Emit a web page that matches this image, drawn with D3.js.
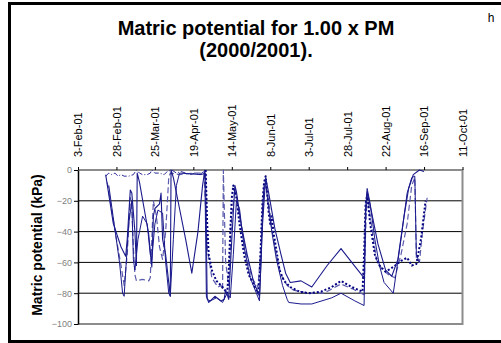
<!DOCTYPE html>
<html>
<head>
<meta charset="utf-8">
<script src="https://cdn.jsdelivr.net/npm/d3@7"></script>
<style>
  body { margin: 0; background: #fff; }
  svg { display: block; font-family: Arial, "Liberation Sans", sans-serif; }
</style>
</head>
<body>
<div id="chart"></div>
<script>
// day offsets from 3-Feb-01, matric potential in kPa
const startDate = new Date(2001, 1, 3);
const endDate = new Date(2001, 9, 11);
const yTicks = [0, -20, -40, -60, -80, -100];

const seriesA = [
  [18, -3], [23, -35], [28, -50], [31, -56], [32, -45], [34, -13], [35, -15], [37, -40], [38, -62],
  [38.5, -2], [40, -8], [43, -25], [46, -42], [48, -63], [49, -30], [50, -25], [53, -22], [54, -15],
  [55, -45], [57, -55], [60, -82], [60.5, 0], [62, -5], [66, -25], [70, -45], [74, -67], [78, -40],
  [81, -10], [82.5, 0], [83.5, -82], [85, -86], [89, -82], [93, -85], [95, -84], [96, -78], [98, -84],
  [100, -45], [102, -10], [103, -14], [106, -35], [110, -55], [114, -72], [118, -82], [120, -35],
  [122, -5], [124, -15], [128, -38], [132, -55], [135, -67], [138, -73], [145, -72], [152, -76],
  [162, -62], [171, -51], [178, -60], [186, -70], [187, -25], [188, -14], [191, -28], [195, -48],
  [200, -65], [204, -69], [208, -58], [212, -30], [215, -12], [218, -3], [222, 0], [225, -1]
];

const seriesB = [
  [20, -10], [27, -60], [29, -80], [30, -82], [32, -50], [33, -35], [35, -20], [36, -58], [37, -65],
  [39, -45], [42, -30], [45, -35], [47, -55], [48, -58], [50, -35], [52, -26], [55, -28], [57, -60],
  [59, -80], [60, -82], [62, -45], [64, -10], [66, -2], [80, -3], [83, -2], [84, -84], [86, -85],
  [90, -83], [94, -86], [97, -80], [99, -83], [101, -55], [103, -20], [105, -25], [108, -50],
  [112, -70], [116, -80], [118, -85], [119, -60], [120, -25], [121, -10], [122, -8], [124, -25],
  [126, -40], [129, -58], [133, -75], [136, -84], [137, -86], [145, -87], [152, -87], [165, -83],
  [171, -80], [180, -85], [186, -88], [186.5, -60], [187, -30], [188, -12], [190, -22], [193, -45],
  [196, -62], [199, -73], [205, -80], [210, -45], [214, -15], [217, -5], [219, -4], [220, -55],
  [222, -60]
];

const seriesC = [
  [83, 0], [84, -35], [85, -55], [87, -65], [90, -72], [94, -76], [97, -80], [98, -65], [99, -40],
  [100, -18], [101, -10], [103, -18], [105, -35], [108, -55], [111, -68], [115, -76], [117, -80],
  [118, -70], [119, -45], [120, -20], [121, -8], [122, -4], [123, -15], [124, -28], [125, -35],
  [126, -30], [127, -40], [129, -52], [131, -65], [134, -72], [138, -76], [144, -79], [150, -80],
  [158, -79], [165, -76], [171, -72], [178, -76], [185, -79], [186, -55], [187, -22], [188, -16],
  [190, -35], [193, -55], [196, -62], [200, -66], [205, -63], [210, -59], [214, -57], [217, -62],
  [220, -61], [223, -45], [226, -20]
];

const seriesD = [
  [19, -8], [25, -45], [28, -62], [30, -75], [32, -55], [34, -18], [35, -25], [36, -50], [37, -68],
  [38, -72], [42, -71], [46, -72], [47, -70], [48, -45], [49, -20], [51, -30], [53, -50], [55, -58],
  [57, -40], [59, -5], [60, -2], [66, -3], [75, -2], [82, -2], [84, -50], [87, -70], [91, -76],
  [93, -75], [94, -78], [94.5, 0], [95, -20], [96, -60], [98, -75], [100, -30], [102, -12],
  [105, -30], [109, -52], [113, -70], [117, -76], [119, -50], [121, -12], [122, -9], [124, -20],
  [126, -38], [129, -55], [132, -68], [136, -75], [140, -78], [150, -80], [160, -80], [171, -74],
  [178, -77], [186, -81], [187, -40], [188, -15], [190, -30], [194, -58], [198, -65], [202, -68],
  [206, -70], [210, -55], [214, -35], [217, -10], [219, -5], [220, -57], [222, -60], [224, -40],
  [227, -18]
];

const seriesE = [
  [18, -4], [20, -2], [22, -3], [24, -2], [26, -4], [28, -3], [30, -4], [33, -4], [36, -3],
  [38, 0], [40, -2], [42, -3], [45, -3], [47, -2], [48, 0], [50, -2], [53, -2], [56, -3],
  [58, -1], [61, 0], [64, -2], [67, -1], [70, -2], [73, -3], [76, -2], [79, -3], [82, -1], [83, 0]
];

const W = 501, H = 343;
const plot = { left: 78, right: 462.5, top: 170, bottom: 324 };

const svg = d3.select("#chart").append("svg")
    .attr("width", W)
    .attr("height", H);

// outer frame (top, left, bottom)
svg.append("line").attr("x1", 8).attr("x2", W).attr("y1", 3.5).attr("y2", 3.5)
    .attr("stroke", "#000").attr("stroke-width", 3);
svg.append("line").attr("x1", 9.5).attr("x2", 9.5).attr("y1", 2).attr("y2", H)
    .attr("stroke", "#000").attr("stroke-width", 3);
svg.append("line").attr("x1", 8).attr("x2", W).attr("y1", 341.5).attr("y2", 341.5)
    .attr("stroke", "#000").attr("stroke-width", 3);

svg.append("text")
    .attr("x", 491).attr("y", 22)
    .attr("text-anchor", "middle")
    .attr("font-size", 12)
    .text("h");

// title
const title = svg.append("text")
    .attr("text-anchor", "middle")
    .attr("font-size", 20)
    .attr("font-weight", "bold");
title.append("tspan").attr("x", 256).attr("y", 35).text("Matric potential for 1.00 x PM");
title.append("tspan").attr("x", 256).attr("y", 57).text("(2000/2001).");

const x = d3.scaleTime()
    .domain([startDate, endDate])
    .range([plot.left, plot.right]);

const y = d3.scaleLinear()
    .domain([-100, 0])
    .range([plot.bottom, plot.top]);

const xTickDates = d3.range(0, 251, 25).map(d => d3.timeDay.offset(startDate, d));

// grid lines
svg.append("g")
    .selectAll("line")
    .data(yTicks.filter(v => v !== 0 && v !== -100))
  .enter().append("line")
    .attr("x1", plot.left).attr("x2", plot.right)
    .attr("y1", d => y(d)).attr("y2", d => y(d))
    .attr("stroke", "#000").attr("stroke-width", 1);

// plot frame: grey top/right/bottom
svg.append("path")
    .attr("d", `M${plot.left},${y(0)}H${plot.right}V${y(-100)}H${plot.left}`)
    .attr("fill", "none")
    .attr("stroke", "#8c8c8c")
    .attr("stroke-width", 2);

// series
const line = d3.line()
    .x(d => x(d3.timeDay.offset(startDate, Math.floor(d[0])).getTime() + (d[0] % 1) * 864e5))
    .y(d => y(d[1]));

const styles = [
  { data: seriesE, color: "#2a2a98", width: 1, dash: "5,2,1,2" },
  { data: seriesD, color: "#5c5cae", width: 1.2, dash: "6,3" },
  { data: seriesC, color: "#000080", width: 2, dash: "2,2" },
  { data: seriesB, color: "#1a1a8c", width: 1, dash: null },
  { data: seriesA, color: "#1a1a8c", width: 1.1, dash: null }
];

svg.append("g")
    .selectAll("path")
    .data(styles)
  .enter().append("path")
    .attr("d", s => line(s.data))
    .attr("fill", "none")
    .attr("stroke", s => s.color)
    .attr("stroke-width", s => s.width)
    .attr("stroke-dasharray", s => s.dash)
    .attr("stroke-linejoin", "round");

// y axis
const yAxis = svg.append("g")
    .attr("transform", `translate(${plot.left},0)`)
    .call(d3.axisLeft(y).tickValues(yTicks).tickSize(4).tickSizeOuter(0));
yAxis.select(".domain").attr("stroke", "#000").attr("stroke-width", 1.5);
yAxis.selectAll(".tick line").attr("stroke", "#000");
yAxis.selectAll("text")
    .attr("fill", "#808080")
    .attr("font-size", 9)
    .attr("font-family", "Arial, 'Liberation Sans', sans-serif")
    .attr("x", -6);

// top date axis
const xAxis = svg.append("g")
    .attr("transform", `translate(0,${plot.top})`)
    .call(d3.axisTop(x).tickValues(xTickDates).tickSize(3).tickSizeOuter(0)
        .tickFormat(d3.timeFormat("%-d-%b-%y")));
xAxis.select(".domain").remove();
xAxis.selectAll(".tick line").attr("stroke", "#000");
xAxis.selectAll("text")
    .attr("font-size", 11)
    .attr("font-family", "Arial, 'Liberation Sans', sans-serif")
    .attr("fill", "#000")
    .attr("transform", "rotate(-90)")
    .attr("text-anchor", "start")
    .attr("x", 13)
    .attr("y", 0)
    .attr("dy", "0.35em");

// y title
svg.append("text")
    .attr("transform", "translate(42,245) rotate(-90)")
    .attr("text-anchor", "middle")
    .attr("font-size", 14)
    .attr("font-weight", "bold")
    .text("Matric potential (kPa)");
</script>
</body>
</html>
